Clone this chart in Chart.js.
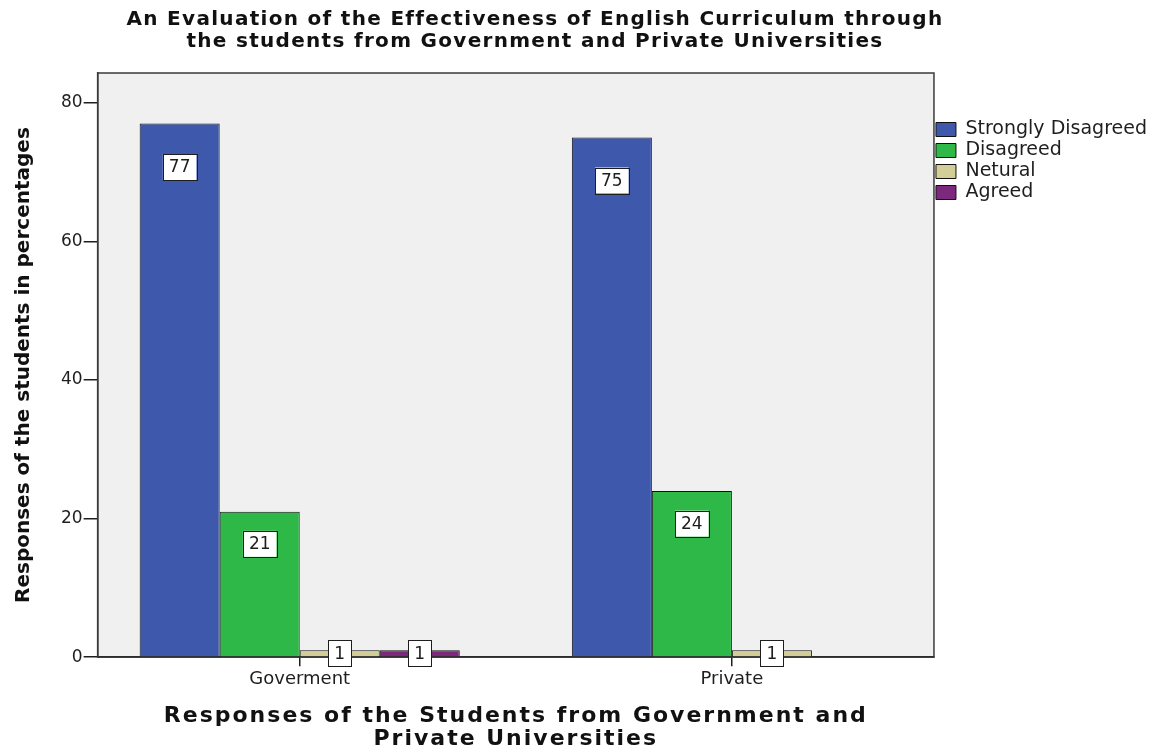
<!DOCTYPE html>
<html>
<head>
<meta charset="utf-8">
<script src="https://cdn.jsdelivr.net/npm/chart.js@4.4.1/dist/chart.umd.min.js"></script>
<style>
  html, body { margin: 0; padding: 0; background: #ffffff; }
  #wrap { width: 1152px; height: 747px; position: relative; }
</style>
</head>
<body>
<div id="wrap"><canvas id="chart" width="1152" height="747"></canvas></div>
<script>
// ---- chart data ----
const titleLines = [
  'An Evaluation of the Effectiveness of English Curriculum through',
  'the students from Government and Private Universities'
];
const categories = ['Goverment', 'Private'];
const seriesNames = ['Strongly Disagreed', 'Disagreed', 'Netural', 'Agreed'];
const stronglyDisagreed = [77, 75];
const disagreed = [21, 24];
const netural = [1, 1];
const agreed = [1, null];
const yTickValues = [0, 20, 40, 60, 80];
const xAxisTitle = ['Responses of the Students from Government and', 'Private Universities'];
const yAxisTitle = 'Responses of the students in percentages';

const seriesValues = [stronglyDisagreed, disagreed, netural, agreed];
const seriesColors = ['#3E58AC', '#2EB848', '#D3CE97', '#7C287D'];

const FONT = "'DejaVu Sans', 'Liberation Sans', sans-serif";
const INK = '#1e1e1e';

// categories sit at x = 1, 2 on a numeric axis
const datasets = seriesNames.map((name, s) => ({
  label: name,
  data: seriesValues[s].map((v, i) => ({ x: i + 1, y: v })),
  backgroundColor: seriesColors[s],
  borderColor: '#111111',
  borderWidth: 1,
  categoryPercentage: 0.7407,
  barPercentage: 1.0
}));

// light grey plotting panel behind the bars
const panelPlugin = {
  id: 'panel',
  beforeDraw(chart) {
    const { ctx, chartArea: a } = chart;
    ctx.save();
    ctx.fillStyle = '#ffffff';
    ctx.fillRect(0, 0, chart.width, chart.height);
    ctx.fillStyle = '#f0f0f0';
    ctx.fillRect(a.left, a.top, a.right - a.left, a.bottom - a.top);
    ctx.restore();
  },
  afterDatasetsDraw(chart) {
    const { ctx, chartArea: a } = chart;
    ctx.save();
    ctx.strokeStyle = '#3a3a3a';
    ctx.lineWidth = 1.5;
    ctx.strokeRect(a.left, a.top, a.right - a.left, a.bottom - a.top);
    ctx.restore();
  }
};

// boxed value labels on each bar, placed a little below the bar top
const valueLabelPlugin = {
  id: 'valueLabels',
  afterDatasetsDraw(chart) {
    const { ctx } = chart;
    ctx.save();
    ctx.font = '17px ' + FONT;
    ctx.textAlign = 'center';
    ctx.textBaseline = 'middle';
    chart.data.datasets.forEach((ds, di) => {
      const meta = chart.getDatasetMeta(di);
      meta.data.forEach((bar, i) => {
        const v = ds.data[i].y;
        if (v === null || v === undefined) return;
        const h = bar.base - bar.y;
        const cy = bar.y + Math.min(28 + 0.029 * h, h / 2);
        const text = String(v);
        const w = ctx.measureText(text).width + 12;
        const bh = 26;
        ctx.fillStyle = '#ffffff';
        ctx.fillRect(bar.x - w / 2, cy - bh / 2, w, bh);
        ctx.strokeStyle = INK;
        ctx.lineWidth = 1;
        ctx.strokeRect(Math.round(bar.x - w / 2) + 0.5, Math.round(cy - bh / 2) + 0.5, Math.round(w), bh);
        ctx.fillStyle = INK;
        ctx.fillText(text, bar.x, cy + 1);
      });
    });
    ctx.restore();
  }
};

// two-line heading above the panel; the x-axis title is drawn with wider tracking
const headingPlugin = {
  id: 'heading',
  afterLayout(chart) {
    const xs = chart.scales.x;
    if (xs && !xs._trackedTitle) {
      const original = xs.drawTitle.bind(xs);
      xs.drawTitle = function () {
        const ctx = chart.ctx;
        const prev = ctx.letterSpacing;
        ctx.letterSpacing = '2px';
        original();
        ctx.letterSpacing = prev || '0px';
      };
      xs._trackedTitle = true;
    }
  },
  afterDraw(chart) {
    const { ctx } = chart;
    ctx.save();
    ctx.font = 'bold 20px ' + FONT;
    ctx.letterSpacing = '1.3px';
    ctx.fillStyle = '#111111';
    ctx.textAlign = 'center';
    ctx.textBaseline = 'middle';
    titleLines.forEach((line, k) => ctx.fillText(line, 535, 20 + k * 22));
    ctx.letterSpacing = '0px';
    ctx.restore();
  }
};

new Chart(document.getElementById('chart'), {
  type: 'bar',
  data: { datasets },
  plugins: [panelPlugin, valueLabelPlugin, headingPlugin],
  options: {
    responsive: false,
    devicePixelRatio: 1,
    animation: false,
    layout: { padding: { left: 4, right: -5, top: 73, bottom: 0 } },
    plugins: {
      title: { display: false },
      tooltip: { enabled: false },
      legend: {
        position: 'right',
        align: 'start',
        title: { display: true, text: ' ', font: { size: 10 }, padding: { top: 33, bottom: 0 } },
        labels: {
          font: { family: FONT, size: 19 },
          color: INK,
          boxWidth: 20,
          boxHeight: 14,
          padding: 2
        }
      }
    },
    scales: {
      x: {
        type: 'linear',
        offset: false,
        min: 0.5324,
        max: 2.4676,
        afterBuildTicks(scale) {
          scale.ticks = categories.map((c, i) => ({ value: i + 1 }));
        },
        ticks: {
          autoSkip: false,
          maxRotation: 0,
          padding: 2,
          font: { family: FONT, size: 18 },
          color: INK,
          callback: (v) => categories[Math.round(v) - 1] ?? ''
        },
        grid: { offset: false, drawOnChartArea: false, drawTicks: true, tickLength: 9, color: INK, lineWidth: 1.5 },
        border: { display: true, color: INK, width: 1.5 },
        title: {
          display: true,
          text: xAxisTitle,
          font: { family: FONT, size: 22, weight: 'bold', lineHeight: 1.05 },
          color: '#111111',
          padding: { top: 13, bottom: -4 }
        }
      },
      y: {
        min: 0,
        max: 84.3,
        afterBuildTicks(scale) {
          scale.ticks = yTickValues.map(v => ({ value: v }));
        },
        ticks: {
          padding: 1,
          font: { family: FONT, size: 17 },
          color: INK
        },
        grid: { drawOnChartArea: false, drawTicks: true, tickLength: 14, color: INK, lineWidth: 1.5 },
        border: { display: true, color: INK, width: 1.5 },
        title: {
          display: true,
          text: yAxisTitle,
          font: { family: FONT, size: 20, weight: 'bold', lineHeight: 1.2 },
          color: '#111111',
          padding: { top: 8, bottom: 24 }
        }
      }
    }
  }
});
</script>
</body>
</html>
